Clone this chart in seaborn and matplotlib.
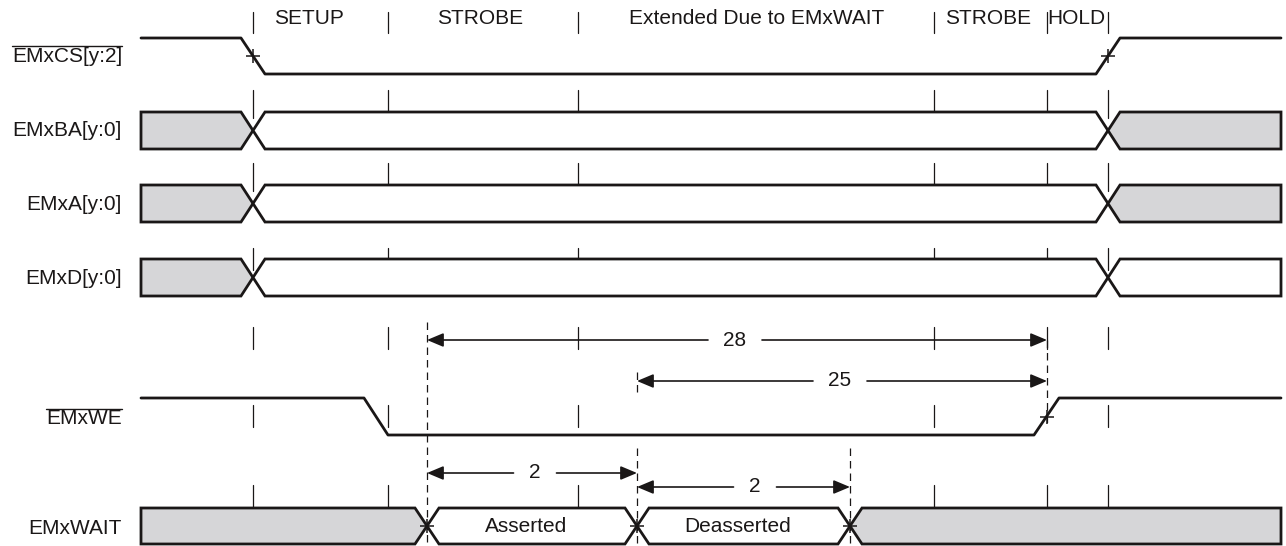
import numpy as np
import seaborn as sns
import matplotlib
matplotlib.use("Agg")
import matplotlib.pyplot as plt

# time axis runs in drawing units, traces go from t_start to t_end
t_start, t_end = 141, 1281
phase_edges = [253, 388, 578, 934, 1047, 1108]
phase_names = ["SETUP", "STROBE", "Extended Due to EMxWAIT", "STROBE", "HOLD"]
phase_name_x = [309, 480, 757, 988, 1076]

# single ended strobes (1 = high)
cs_t = [141, 241, 265, 1096, 1120, 1281]
cs_level = [1, 1, 0, 0, 1, 1]
we_t = [141, 364, 388, 1034, 1059, 1281]
we_level = [1, 1, 0, 0, 1, 1]

# buses: change points and state of each interval (x = invalid, v = valid)
ba_edges = [141, 253, 1108, 1281]
ba_state = ["x", "v", "x"]
a_edges = [141, 253, 1108, 1281]
a_state = ["x", "v", "x"]
d_edges = [141, 253, 1108, 1281]
d_state = ["x", "v", "v"]
wait_edges = [141, 427, 637, 850, 1281]
wait_state = ["x", "v", "v", "x"]
wait_text = ["", "Asserted", "Deasserted", ""]

# timing dimensions
dim_start = [427, 637, 427, 637]
dim_end = [1047, 1047, 637, 850]
dim_label = ["28", "25", "2", "2"]
dim_label_x = [735, 840, 535, 755]

INK = "#1a1717"
GREY = "#d6d6d8"
FS = 15

sns.set_theme(style="white")
plt.rcParams["font.family"] = ["Liberation Sans", "DejaVu Sans"]

fig = plt.figure(figsize=(12.86, 5.46), dpi=100)
ax = fig.add_axes([0, 0, 1, 1])


def strobe(ts, levels, y_hi, y_lo):
    ys = [y_hi if lv else y_lo for lv in levels]
    sns.lineplot(x=ts, y=ys, ax=ax, estimator=None, sort=False,
                 color=INK, lw=2.0, zorder=3)


def bus(edges, states, top, bot, texts=None, h=12):
    mid = (top + bot) / 2
    for i, (a, b) in enumerate(zip(edges[:-1], edges[1:])):
        if a == t_start:
            left = [(a, bot), (a, top)]
        else:
            left = [(a + h, bot), (a, mid), (a + h, top)]
        if b == t_end:
            right = [(b, top), (b, bot)]
        else:
            right = [(b - h, top), (b, mid), (b - h, bot)]
        pts = np.array(left + right)
        ax.fill(pts[:, 0], pts[:, 1], facecolor=GREY if states[i] == "x" else "white",
                edgecolor=INK, lw=2.0, joinstyle="miter", zorder=2)
        if texts and texts[i]:
            ax.text((a + b) / 2 - 6, mid + 1, texts[i], ha="center", va="center",
                    fontsize=FS, color=INK, zorder=4)


def ticks(y0, y1, xs):
    for x in xs:
        ax.plot([x, x], [y0, y1], color=INK, lw=0.9, zorder=1)


# phase header
ticks(12, 33, phase_edges)
for name, x in zip(phase_names, phase_name_x):
    ax.text(x, 19, name, ha="center", va="center", fontsize=FS, color=INK)

# signals
strobe(cs_t, cs_level, 38, 74)
ticks(90, 118, phase_edges)
bus(ba_edges, ba_state, 112, 149)
ticks(163, 191, phase_edges)
bus(a_edges, a_state, 185, 222)
ticks(248, 270, phase_edges)
bus(d_edges, d_state, 259, 296)
ticks(327, 349, phase_edges)
ticks(405, 427, [e for e in phase_edges if e != 1047])
strobe(we_t, we_level, 398, 435)
ticks(485, 514, phase_edges)
bus(wait_edges, wait_state, 508, 544, wait_text)

# dashed reference lines
for x, y0, y1 in [(427, 322, 544), (637, 372, 396), (637, 448, 544),
                  (850, 448, 544), (1047, 340, 423)]:
    ax.plot([x, x], [y0, y1], color=INK, lw=0.9, ls=(0, (6, 4)), zorder=5)

# crossing markers
ax.plot([253, 1108, 1047, 427, 637, 850], [56, 56, 417, 526, 526, 526],
        ls="none", marker="+", ms=10, mew=1.1, color=INK, zorder=5)

# dimension arrows
arrow = dict(arrowstyle="-|>,head_length=1.0,head_width=0.42",
             color=INK, lw=1.2, shrinkA=0, shrinkB=0, mutation_scale=10)
for s, e, lab, lx, y in zip(dim_start, dim_end, dim_label, dim_label_x,
                            [340, 381, 473, 487]):
    gap = 16 + 5.5 * len(lab)
    ax.annotate("", xy=(s, y), xytext=(lx - gap, y), arrowprops=arrow, zorder=5)
    ax.annotate("", xy=(e, y), xytext=(lx + gap, y), arrowprops=arrow, zorder=5)
    ax.text(lx, y, lab, ha="center", va="center", fontsize=FS, color=INK)

# signal names, active low ones get an overline
names = ["EMxCS[y:2]", "EMxBA[y:0]", "EMxA[y:0]", "EMxD[y:0]", "EMxWE", "EMxWAIT"]
name_y = [56, 131, 204, 278, 419, 528]
active_low = [True, False, False, False, True, False]

ax.set_xlim(0, 1286)
ax.set_ylim(546, 0)
ax.axis("off")

labels = []
for n, y in zip(names, name_y):
    labels.append(ax.text(122, y, n, ha="right", va="center", fontsize=FS, color=INK))

fig.canvas.draw()
inv = ax.transData.inverted()
for t, y, low in zip(labels, name_y, active_low):
    if low:
        bb = t.get_window_extent()
        x0 = inv.transform((bb.x0, bb.y0))[0]
        x1 = inv.transform((bb.x1, bb.y0))[0]
        ax.plot([x0, x1], [y - 10, y - 10], color=INK, lw=1.0)

fig.savefig("out.png", dpi=100)
